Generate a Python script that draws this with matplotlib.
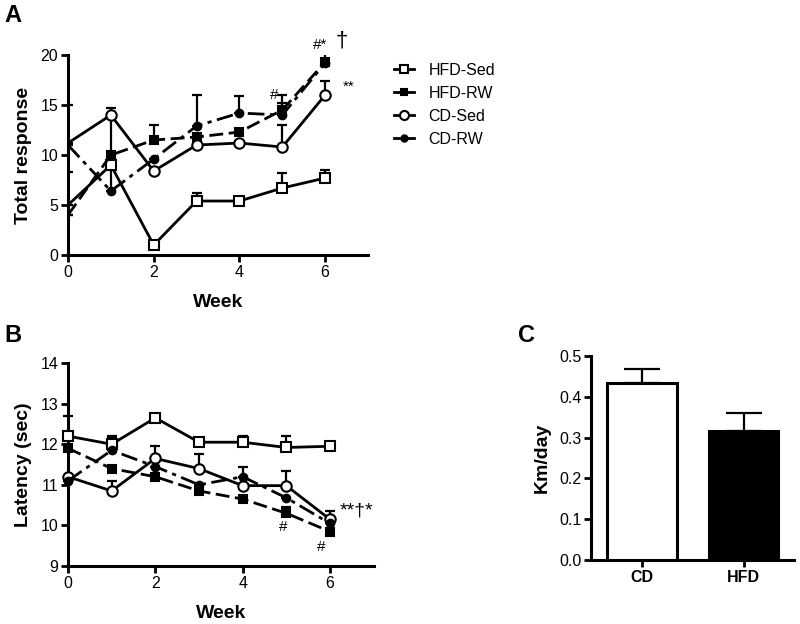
import numpy as np
import matplotlib
matplotlib.use("Agg")
import matplotlib.pyplot as plt
from matplotlib.lines import Line2D

plt.rcParams['font.family'] = ['Liberation Sans', 'DejaVu Sans']

weeks = [0, 1, 2, 3, 4, 5, 6]

# panel A: total response
a_hfd_sed = [5.0, 9.0, 1.0, 5.4, 5.4, 6.7, 7.7]
a_hfd_sed_err = [3.3, 5.0, 0.0, 0.8, 0.3, 1.5, 0.8]
a_hfd_rw = [4.0, 10.0, 11.5, 11.8, 12.3, 14.5, 19.3]
a_hfd_rw_err = [0.0, 0.0, 1.5, 0.0, 0.0, 1.5, 1.0]
a_cd_sed = [11.2, 14.0, 8.4, 11.0, 11.2, 10.8, 16.0]
a_cd_sed_err = [3.8, 0.7, 0.0, 0.0, 0.0, 2.2, 1.4]
a_cd_rw = [11.0, 6.4, 9.6, 12.9, 14.2, 14.0, 19.2]
a_cd_rw_err = [0.0, 3.5, 0.0, 3.1, 1.7, 1.2, 0.0]

# panel B: latency
b_hfd_sed = [12.2, 12.0, 12.65, 12.05, 12.05, 11.92, 11.95]
b_hfd_sed_err = [0.5, 0.2, 0.0, 0.1, 0.15, 0.28, 0.0]
b_hfd_rw = [11.9, 11.4, 11.2, 10.85, 10.65, 10.3, 9.85]
b_hfd_rw_err = [0.0, 0.0, 0.0, 0.0, 0.0, 0.15, 0.0]
b_cd_sed = [11.2, 10.85, 11.65, 11.4, 10.98, 10.98, 10.15]
b_cd_sed_err = [0.0, 0.25, 0.3, 0.35, 0.0, 0.37, 0.2]
b_cd_rw = [11.1, 11.85, 11.45, 11.0, 11.2, 10.68, 10.05]
b_cd_rw_err = [0.0, 0.3, 0.0, 0.0, 0.25, 0.0, 0.0]

# panel C: running distance
groups = ['CD', 'HFD']
km_day = [0.433, 0.315]
km_err = [0.034, 0.045]

labels = ['HFD-Sed', 'HFD-RW', 'CD-Sed', 'CD-RW']
# marker, face colour, line style, marker size
styles = [('s', 'white', '-', 7), ('s', 'black', (0, (5, 2)), 5.5),
          ('o', 'white', '-', 7.5), ('o', 'black', (0, (6, 2, 1.5, 2)), 5.5)]


def style_axes(ax):
    for s in ['top', 'right']:
        ax.spines[s].set_visible(False)
    for s in ['left', 'bottom']:
        ax.spines[s].set_linewidth(2.2)
    ax.tick_params(direction='out', width=2, length=5, labelsize=11.5, pad=2)


def draw_series(ax, x, ys, errs, skip_first):
    for y, e, (m, fc, ls, ms) in zip(ys, errs, styles):
        ax.errorbar(x, y, yerr=[np.zeros(len(e)), e], fmt='none', ecolor='black',
                    elinewidth=1.6, capsize=3.5, capthick=1.6, zorder=2)
        ax.plot(x, y, color='black', lw=2, ls=ls, marker=m, markersize=ms,
                markerfacecolor=fc, markeredgecolor='black', markeredgewidth=1.5,
                markevery=slice(1, None) if skip_first else None, zorder=3)


fig = plt.figure(figsize=(8, 6.24), dpi=100)

# A
axA = fig.add_axes([0.085, 0.5913, 0.375, 0.3205])
draw_series(axA, weeks, [a_hfd_sed, a_hfd_rw, a_cd_sed, a_cd_rw],
            [a_hfd_sed_err, a_hfd_rw_err, a_cd_sed_err, a_cd_rw_err], True)
axA.set_xlim(0, 7)
axA.set_ylim(0, 20)
axA.set_xticks([0, 2, 4, 6])
axA.set_yticks([0, 5, 10, 15, 20])
style_axes(axA)
axA.set_ylabel('Total response', fontsize=14, fontweight='bold', labelpad=6)
axA.set_xlabel('Week', fontsize=14, fontweight='bold', labelpad=10)
axA.text(5.88, 20.3, '#*', fontsize=11, ha='center', va='bottom', clip_on=False)
axA.text(6.38, 20.4, '\u2020', fontsize=16, ha='center', va='bottom', clip_on=False)
axA.text(4.82, 15.3, '#', fontsize=11, ha='center', va='bottom')
axA.text(6.55, 16.1, '**', fontsize=11, ha='center', va='bottom', clip_on=False)

handles = [Line2D([0], [0], color='black', lw=2, marker=m, markersize=ms - 1,
                  markerfacecolor=fc, markeredgecolor='black', markeredgewidth=1.5)
           for (m, fc, ls, ms) in styles]
fig.legend(handles, labels, loc='upper left', bbox_to_anchor=(0.474, 0.922),
           frameon=False, fontsize=11.5, handlelength=1.3, handletextpad=0.9,
           labelspacing=0.5)

# B
axB = fig.add_axes([0.085, 0.0929, 0.382, 0.3253])
draw_series(axB, weeks, [b_hfd_sed, b_hfd_rw, b_cd_sed, b_cd_rw],
            [b_hfd_sed_err, b_hfd_rw_err, b_cd_sed_err, b_cd_rw_err], False)
for ln in axB.lines:
    ln.set_clip_on(False)
axB.set_xlim(0, 7)
axB.set_ylim(9, 14)
axB.set_xticks([0, 2, 4, 6])
axB.set_yticks([9, 10, 11, 12, 13, 14])
style_axes(axB)
axB.set_ylabel('Latency (sec)', fontsize=14, fontweight='bold', labelpad=6)
axB.set_xlabel('Week', fontsize=14, fontweight='bold', labelpad=10)
axB.text(4.92, 9.95, '#', fontsize=11, ha='center', va='center')
axB.text(5.8, 9.47, '#', fontsize=11, ha='center', va='center')
axB.text(6.6, 10.35, '**\u2020*', fontsize=14, ha='center', va='center', clip_on=False)

# C
axC = fig.add_axes([0.739, 0.1026, 0.254, 0.327])
xc = np.arange(len(groups))
axC.bar(xc, km_day, width=0.68, color=['white', 'black'], edgecolor='black',
        linewidth=2.2, zorder=3)
axC.errorbar(xc, km_day, yerr=[np.zeros(2), km_err], fmt='none', ecolor='black',
             elinewidth=1.6, capsize=13, capthick=1.6, zorder=2)
axC.set_xlim(-0.5, 1.5)
axC.set_ylim(0, 0.5)
axC.set_xticks(xc)
axC.set_xticklabels(groups, fontweight='bold', fontsize=13)
axC.set_yticks([0.0, 0.1, 0.2, 0.3, 0.4, 0.5])
axC.set_yticklabels(['0.0', '0.1', '0.2', '0.3', '0.4', '0.5'])
style_axes(axC)
axC.set_ylabel('Km/day', fontsize=14, fontweight='bold', labelpad=6)

fig.text(0.016, 0.975, 'A', fontsize=17, fontweight='bold', ha='center', va='center')
fig.text(0.016, 0.463, 'B', fontsize=17, fontweight='bold', ha='center', va='center')
fig.text(0.658, 0.463, 'C', fontsize=17, fontweight='bold', ha='center', va='center')

fig.savefig('out.png', dpi=100)
